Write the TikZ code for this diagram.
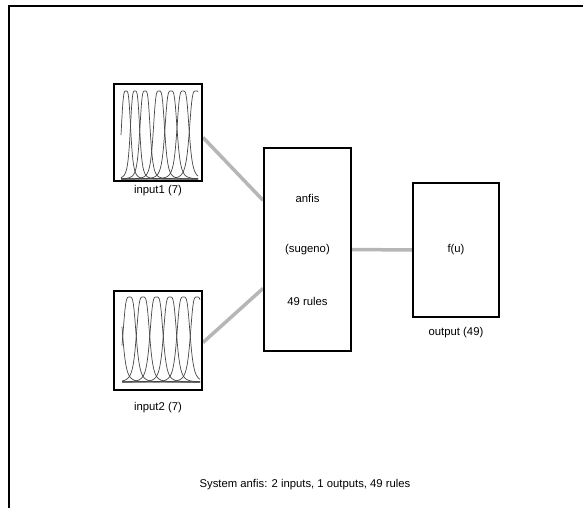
\documentclass[tikz,border=0pt]{standalone}
\usepackage{fontspec}
\setmainfont{Liberation Sans}
\usetikzlibrary{calc,backgrounds}
\definecolor{linkgray}{RGB}{182,182,182}
\definecolor{mfgray}{RGB}{70,70,70}
\begin{document}
\begin{tikzpicture}[x=1pt,y=-1pt,
  declare function={bell(\p,\m,\w)=1/(1+pow(min(((\p-\m)/\w)*((\p-\m)/\w),100),2));},
  block/.style={draw=black,line width=2pt,inner sep=0pt,fill=white},
  link/.style={draw=linkgray,line width=3.5pt},
  mf/.style={draw=mfgray,line width=0.7pt},
  lbl/.style={font=\fontsize{11.3}{13}\selectfont,inner sep=0pt,text=black}]
\useasboundingbox (0,0) rectangle (583,508);
% window frame
\draw[line width=2pt,line join=miter] (9,508) -- (9,6) -- (583,6);

% blocks
\node[block,minimum width=88pt,minimum height=97pt] (in1) at (158,132.5) {};
\node[block,minimum width=88pt,minimum height=99pt] (in2) at (158,340.5) {};
\node[block,minimum width=87pt,minimum height=203pt] (sys) at (307.5,249.5) {};
\node[block,minimum width=86pt,minimum height=134pt] (out) at (456,250) {};

% membership functions of input1
\foreach \c/\w in {126/5,135/5,145/5.5,159/6,171/6.5,183/6.5,196/7}
  \draw[mf] plot[domain=121:198,samples=110] (\x,{179-88*bell(\x,\c,\w)});
% membership functions of input2
\foreach \c/\w in {116/7,129.5/7,143/7,156.5/7,170/7,183.5/7,197/7}
  \draw[mf] plot[domain=122:200,samples=110] (\x,{382-85*bell(\x,\c,\w)});

% texts
\node[lbl] (in1lbl) at (158,191) {input1 (7)};
\node[lbl] (in2lbl) at (158,408) {input2 (7)};
\node[lbl] (sysname) at (307.5,198) {anfis};
\node[lbl] (systype) at (307.5,250) {(sugeno)};
\node[lbl] (sysrules) at (307.5,301) {49 rules};
\node[lbl] (fu) at (456,250) {f(u)};
\node[lbl] (outlbl) at (456,333) {output (49)};
\node[lbl] (summary) at (305,485) {System anfis: 2 inputs, 1 outputs, 49 rules};

% connectors, kept behind the blocks
\begin{pgfonlayer}{background}
\draw[link] ($(in1.north east)!0.55!(in1.south east)$) -- ($(sys.north west)!0.26!(sys.south west)$);
\draw[link] ($(in2.north east)!0.52!(in2.south east)$) -- ($(sys.north west)!0.69!(sys.south west)$);
\draw[link] (sys.east) -- (out.west);
\end{pgfonlayer}
\end{tikzpicture}
\end{document}
